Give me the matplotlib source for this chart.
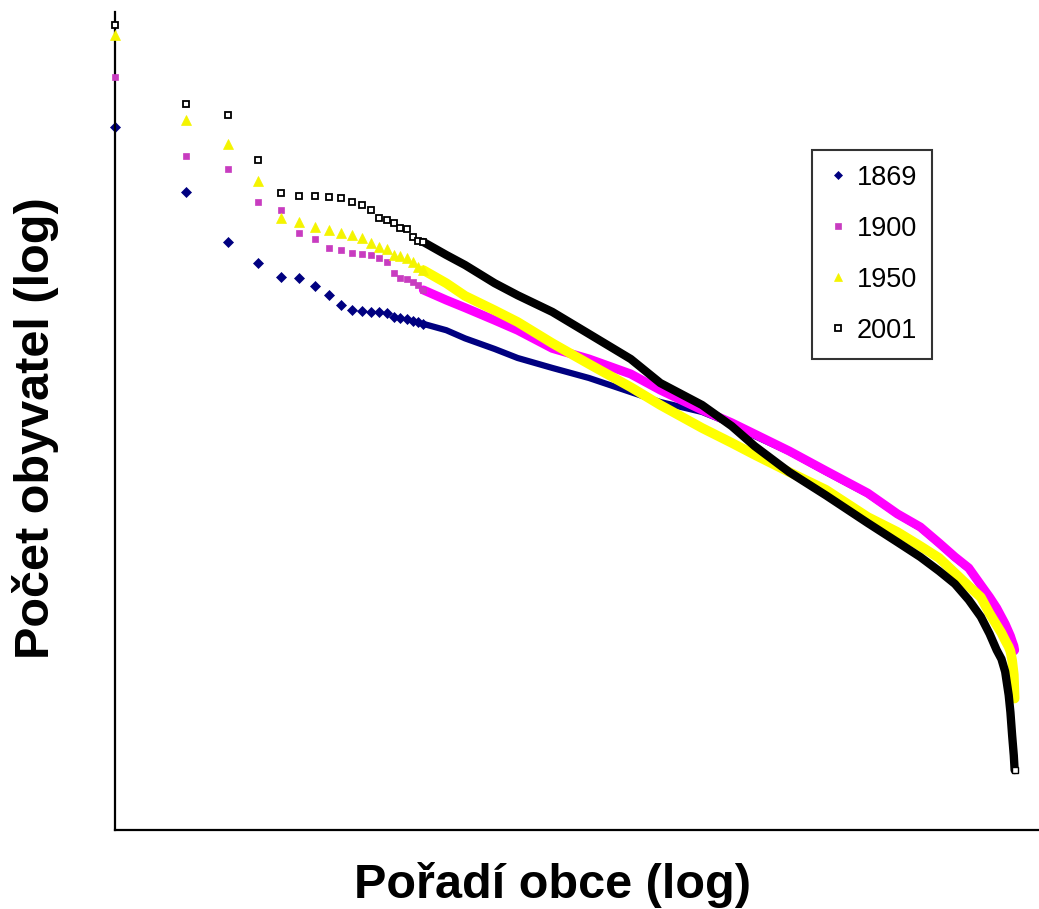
import matplotlib
matplotlib.use("Agg")
import matplotlib.pyplot as plt
from matplotlib.lines import Line2D

plt.rcParams['font.family'] = ['Liberation Sans', 'DejaVu Sans']

# Census years
years = ["1869", "1900", "1950", "2001"]

# Ranks of the largest municipalities (drawn as separate markers)
rank_head = list(range(1, 21))
# Ranks along the dense remainder of each rank-size curve
rank_tail = [25, 30, 40, 50, 70, 100, 150, 200, 300, 400, 500, 700, 1000,
             1500, 2000, 2500, 3000, 3500, 4000, 4500, 4900, 5250, 5500, 5700,
             5900, 6000, 6100, 6200, 6250]

# Population of the municipality at each rank
pop_head_1869 = [262000, 101000, 48500, 35700, 29000, 28600, 25500, 22300, 19300, 17900,
                 17700, 17500, 17300, 17000, 16200, 16000, 15600, 15300, 15000, 14600]
pop_tail_1869 = [13300, 11800, 10100, 8850, 7650, 6600, 5370, 4640, 4010, 3360, 2820, 2230,
                 1660, 1200, 890, 730, 578, 470, 400, 312, 260, 222, 194, 176,
                 156, 147, 136, 127, 119]

pop_head_1900 = [545000, 171000, 141000, 87300, 77500, 55300, 50700, 44400, 43100, 41200,
                 40600, 40000, 38400, 36200, 30800, 28600, 28200, 27000, 25900, 24000]
pop_tail_1900 = [20700, 18500, 15400, 13300, 10200, 8720, 7000, 5530, 4130, 3420, 2900, 2260,
                 1690, 1220, 900, 742, 587, 478, 407, 317, 265, 226, 198, 179,
                 159, 150, 139, 130, 122]

pop_head_1950 = [1010000, 290000, 204000, 118700, 69000, 65000, 60400, 57700, 55300, 53700,
                 51400, 47800, 45000, 43700, 40100, 39500, 38400, 36200, 33600, 32100]
pop_tail_1950 = [26500, 22000, 17800, 15000, 11000, 8100, 5770, 4440, 3170, 2550, 2140, 1660,
                 1280, 859, 690, 561, 471, 378, 312, 265, 209, 176, 157, 141,
                 128, 120, 105, 85, 60]

pop_head_2001 = [1169000, 367000, 312000, 161000, 99500, 95300, 95000, 94500, 92500, 87300,
                 83400, 77500, 69000, 67000, 64100, 59600, 59000, 52200, 49200, 48500]
pop_tail_2001 = [40100, 34600, 26500, 22200, 17400, 12600, 8720, 6130, 4440, 3260, 2430, 1660,
                 1180, 787, 595, 478, 389, 322, 255, 199, 155, 122, 107, 89,
                 63, 49, 35, 26, 21]

series = [
    (years[0], pop_head_1869, pop_tail_1869,
     dict(color='#000080', marker='D', ms=5.0, mfc='#000080', mec='#000080', mew=0.5), 4.5),
    (years[1], pop_head_1900, pop_tail_1900,
     dict(color='#FF00FF', marker='s', ms=5.0, mfc='#C83CC0', mec='#C83CC0', mew=0.5), 6.5),
    (years[2], pop_head_1950, pop_tail_1950,
     dict(color='#FFFF00', marker='^', ms=6.5, mfc='#F4F400', mec='#F4F400', mew=0.5), 7.0),
    (years[3], pop_head_2001, pop_tail_2001,
     dict(color='black', marker='s', ms=5.0, mfc='white', mec='black', mew=1.3), 6.0),
]

fig = plt.figure(figsize=(10.39, 9.09), dpi=100)
ax = fig.add_axes([115 / 1039, 79 / 909, 924 / 1039, 818 / 909])
ax.set_xscale('log')
ax.set_yscale('log')
ax.set_xlim(1, 7920)
ax.set_ylim(8.72, 1.415e6)

handles = []
for z, (label, head, tail, st, lw) in enumerate(series):
    # dense part of the curve as a thick band of overlapping markers
    ax.plot([rank_head[-1]] + rank_tail, [head[-1]] + tail, color=st['color'], lw=lw,
            solid_capstyle='round', solid_joinstyle='round', zorder=2 + z)
    # individual markers for the largest municipalities
    ax.plot(rank_head, head, ls='none', marker=st['marker'], ms=st['ms'],
            mfc=st['mfc'], mec=st['mec'], mew=st['mew'], clip_on=False, zorder=2 + z)
    handles.append(Line2D([], [], ls='none', marker=st['marker'], ms=st['ms'] * 0.8,
                          mfc=st['mfc'], mec=st['mec'], mew=st['mew']))

# the smallest municipality of 2001 is marked at the end of its band
ax.plot([rank_tail[-1]], [pop_tail_2001[-1]], ls='none', marker='s', ms=4,
        mfc='white', mec='black', mew=1.0, zorder=10)

for side in ['top', 'right']:
    ax.spines[side].set_visible(False)
for side in ['left', 'bottom']:
    ax.spines[side].set_linewidth(1.6)
    ax.spines[side].set_color('black')
ax.tick_params(which='both', length=0, labelleft=False, labelbottom=False)

leg = fig.legend(handles, years, loc='upper left', bbox_to_anchor=(812 / 1039, 1 - 150 / 909),
                 fontsize=19.5, frameon=True, fancybox=False, edgecolor='black',
                 borderpad=0.55, handlelength=0.8, handletextpad=0.3, labelspacing=0.92,
                 borderaxespad=0)
leg.get_frame().set_linewidth(1.5)

fig.text(36 / 1039, 1 - 428 / 909, "Počet obyvatel (log)", rotation=90, ha='center',
         va='center', fontsize=35, fontweight='bold')
fig.text(553 / 1039, 1 - 898 / 909, "Pořadí obce (log)", ha='center', va='baseline',
         fontsize=35, fontweight='bold')

fig.savefig("out.png", dpi=100, facecolor='white')
